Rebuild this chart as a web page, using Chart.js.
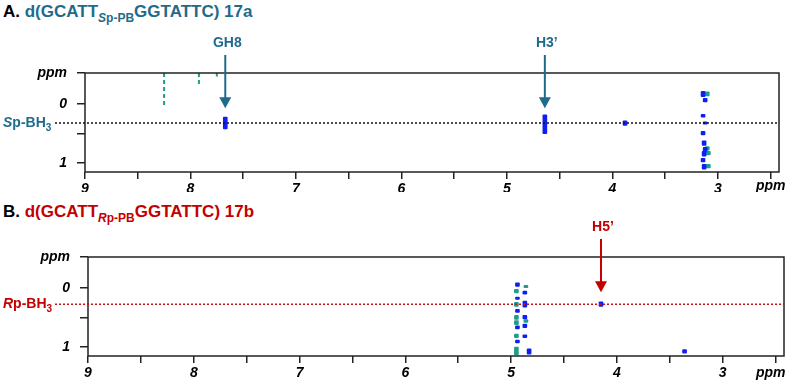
<!DOCTYPE html>
<html>
<head>
<title>PB-GG NOESY slices</title>
<script src="https://cdn.jsdelivr.net/npm/chart.js"></script>
<style>
    body { margin: 0; background: #fff; font-family: Arial, "Liberation Sans", sans-serif; }
    .wrap { position: relative; width: 787px; height: 381px; overflow: hidden; }
    canvas { position: absolute; left: 0; }
    .ttl { position: absolute; left: 3px; font-weight: bold; font-size: 17px; color: #000; white-space: nowrap; }
    .ttl sub { font-size: 12px; vertical-align: -5px; line-height: 0; }
    .teal { color: #1f6b8c; }
    .red { color: #c40000; }
</style>
</head>
<body>
<div class="wrap">
    <div class="ttl" style="top:2px">A. <span class="teal">d(GCATT<sub><i>S</i>p-PB</sub>GGTATTC) 17a</span></div>
    <div class="ttl" style="top:202px">B. <span class="red">d(GCATT<sub><i>R</i>p-PB</sub>GGTATTC) 17b</span></div>
    <canvas id="chartA" width="787" height="192" style="top:0"></canvas>
    <canvas id="chartB" width="787" height="191" style="top:190px"></canvas>
</div>
<script>
// axes
const xTicks = [9, 8.5, 8, 7.5, 7, 6.5, 6, 5.5, 5, 4.5, 4, 3.5, 3, 2.5];
const xTickLabels = ['9', '', '8', '', '7', '', '6', '', '5', '', '4', '', '3', ''];
const yTicksA = [-0.53, 0, 0.5, 1];
const yTicksB = [-0.53, 0, 0.5, 1];
const yTickLabels = ['ppm', '0', '', '1'];

// BH3 row position (ppm, indirect dimension)
const bh3A = 0.32;
const bh3B = 0.27;

// cross peaks: [x ppm, y from, y to]
const blueA = [
    [7.67, 0.22, 0.42], [4.64, 0.18, 0.50], [3.88, 0.28, 0.36],
    [3.14, -0.22, -0.13], [3.12, -0.10, -0.04], [3.14, 0.17, 0.22], [3.12, 0.30, 0.34],
    [3.14, 0.46, 0.52], [3.13, 0.62, 0.70], [3.12, 0.73, 0.80], [3.13, 0.80, 0.88],
    [3.14, 0.92, 0.98], [3.13, 1.02, 1.10]
];
const tealA = [
    [3.10, -0.21, -0.14], [3.10, 0.72, 0.78], [3.09, 0.80, 0.86], [3.09, 1.02, 1.08]
];
const streaksA = [
    [8.25, -0.53, 0.03], [7.92, -0.53, -0.30], [7.75, -0.53, -0.47]
];
const blueB = [
    [4.94, -0.09, -0.03], [4.94, 0.15, 0.19], [4.94, 0.36, 0.41], [4.94, 0.64, 0.69], [4.94, 0.88, 0.93],
    [4.87, 0.05, 0.10], [4.87, 0.22, 0.32], [4.87, 0.46, 0.52], [4.87, 0.61, 0.67], [4.87, 0.79, 0.84],
    [4.83, 1.03, 1.12], [4.15, 0.23, 0.31], [3.36, 1.04, 1.10]
];
const tealB = [
    [4.95, 0.02, 0.08], [4.95, 0.24, 0.31], [4.95, 0.46, 0.53], [4.95, 0.55, 0.62],
    [4.95, 0.78, 0.84], [4.95, 1.00, 1.13], [4.86, -0.05, -0.01], [4.86, 0.53, 0.58]
];
const streaksB = [];

// annotated peaks
const arrowsA = [['GH8', 7.67], ['H3\u2019', 4.64]];
const arrowsB = [['H5\u2019', 4.15]];
const arrowTip = 0.07;

const BLUE = '#0d1ff2';
const TEAL = '#1e9d8c';
const TICK_FONT = { family: 'Arial', size: 14, weight: 'bold', style: 'italic' };

function peakData(list) {
    return list.map(p => ({ x: p[0], y: [p[1], p[2]] }));
}

function streakSets(list) {
    return list.map(s => ({
        type: 'line',
        data: [{ x: s[0], y: s[1] }, { x: s[0], y: s[2] }],
        borderColor: TEAL,
        borderWidth: 2,
        borderDash: [4, 3],
        pointRadius: 0
    }));
}

function extrasPlugin(o) {
    return {
        id: 'extras',
        afterDraw(chart) {
            const ctx = chart.ctx;
            const a = chart.chartArea;
            const xs = chart.scales.x, ys = chart.scales.y;
            ctx.save();
            // frame
            ctx.strokeStyle = '#222';
            ctx.lineWidth = 1.5;
            ctx.strokeRect(a.left, a.top, a.right - a.left, a.bottom - a.top);
            // BH3 row
            const yr = ys.getPixelForValue(o.row);
            ctx.setLineDash([2, 2]);
            ctx.strokeStyle = o.rowColor;
            ctx.lineWidth = 1.5;
            ctx.beginPath();
            ctx.moveTo(55, yr);
            ctx.lineTo(a.right, yr);
            ctx.stroke();
            ctx.setLineDash([]);
            // row label
            ctx.fillStyle = o.color;
            ctx.textBaseline = 'middle';
            ctx.textAlign = 'left';
            let x = 3;
            ctx.font = 'italic bold 14px Arial';
            ctx.fillText(o.iso, x, yr);
            x += ctx.measureText(o.iso).width;
            ctx.font = 'bold 14px Arial';
            ctx.fillText('p-BH', x, yr);
            x += ctx.measureText('p-BH').width;
            ctx.font = 'bold 10px Arial';
            ctx.fillText('3', x, yr + 5);
            // arrows
            const tip = ys.getPixelForValue(arrowTip);
            o.arrows.forEach(ar => {
                const ax = xs.getPixelForValue(ar[1]);
                ctx.fillStyle = o.color;
                ctx.strokeStyle = o.color;
                ctx.font = 'bold 14px Arial';
                ctx.textAlign = 'center';
                ctx.fillText(ar[0], ax + 2, a.top - 30);
                ctx.lineWidth = 2;
                ctx.beginPath();
                ctx.moveTo(ax, a.top - 18);
                ctx.lineTo(ax, tip - 10);
                ctx.stroke();
                ctx.beginPath();
                ctx.moveTo(ax - 6, tip - 11);
                ctx.lineTo(ax + 6, tip - 11);
                ctx.lineTo(ax, tip);
                ctx.closePath();
                ctx.fill();
            });
            // x axis unit
            ctx.fillStyle = '#000';
            ctx.font = 'italic bold 14px Arial';
            ctx.textAlign = 'left';
            ctx.fillText('ppm', 756, a.bottom + o.unitDy);
            ctx.restore();
        }
    };
}

function makeChart(id, o) {
    return new Chart(document.getElementById(id), {
        type: 'bar',
        data: {
            datasets: [
                { data: peakData(o.blue), backgroundColor: BLUE, barThickness: 4, borderRadius: 1, borderSkipped: false },
                { data: peakData(o.teal), backgroundColor: TEAL, barThickness: 4, borderRadius: 1, borderSkipped: false }
            ].concat(streakSets(o.streaks))
        },
        options: {
            responsive: false,
            animation: false,
            layout: { padding: { top: o.padTop, right: o.padRight, left: 0, bottom: 0 } },
            datasets: { bar: { grouped: false } },
            plugins: { legend: { display: false }, tooltip: { enabled: false } },
            scales: {
                x: {
                    type: 'linear',
                    reverse: true,
                    min: 2.42,
                    max: 9,
                    offset: false,
                    afterBuildTicks: s => { s.ticks = xTicks.map(v => ({ value: v })); },
                    afterFit: s => { s.height = o.xHeight; },
                    ticks: {
                        autoSkip: false,
                        maxRotation: 0,
                        padding: 2,
                        color: '#000',
                        font: TICK_FONT,
                        callback: (v, i) => xTickLabels[i]
                    },
                    grid: { offset: false, drawOnChartArea: false, tickLength: 7, color: '#222', lineWidth: 1.5 },
                    border: { display: false }
                },
                y: {
                    type: 'linear',
                    reverse: true,
                    min: -0.53,
                    max: 1.15,
                    afterBuildTicks: s => { s.ticks = o.yTicks.map(v => ({ value: v })); },
                    afterFit: s => { s.width = o.yWidth; },
                    ticks: {
                        autoSkip: false,
                        padding: 10,
                        color: '#000',
                        font: TICK_FONT,
                        callback: (v, i) => yTickLabels[i]
                    },
                    grid: { drawOnChartArea: false, tickLength: 8, color: '#222', lineWidth: 1.5 },
                    border: { display: false }
                }
            }
        },
        plugins: [extrasPlugin(o)]
    });
}

makeChart('chartA', {
    blue: blueA, teal: tealA, streaks: streaksA, yTicks: yTicksA,
    row: bh3A, rowColor: '#111', color: '#1f6b8c', iso: 'S', arrows: arrowsA,
    padTop: 73, padRight: 8, xHeight: 20, yWidth: 85, unitDy: 14
});
makeChart('chartB', {
    blue: blueB, teal: tealB, streaks: streaksB, yTicks: yTicksB,
    row: bh3B, rowColor: '#d01010', color: '#c40000', iso: 'R', arrows: arrowsB,
    padTop: 67, padRight: 3, xHeight: 25, yWidth: 88, unitDy: 17
});
</script>
</body>
</html>
